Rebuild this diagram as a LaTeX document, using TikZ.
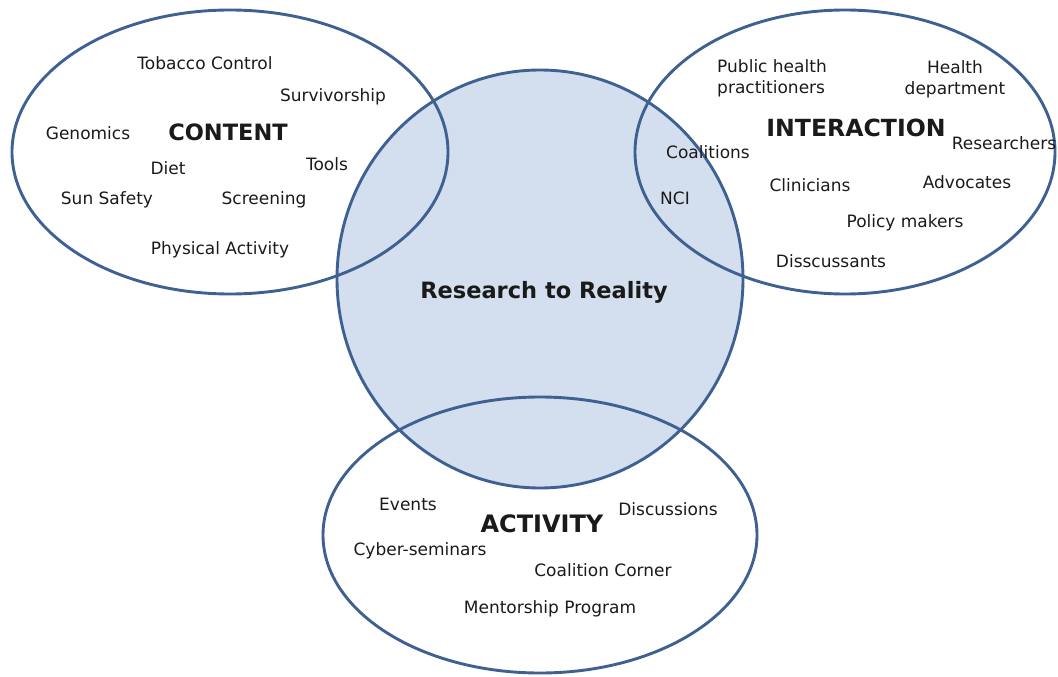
\documentclass[tikz,border=0pt]{standalone}
\usepackage{fontspec}
\setmainfont{DejaVu Sans}
\usetikzlibrary{shapes.geometric}
\definecolor{edge}{HTML}{3E6192}
\definecolor{bluefill}{HTML}{D3DEEE}
\definecolor{txt}{HTML}{1A1A1A}
\begin{document}
\begin{tikzpicture}[x=1pt,y=-1pt,
  lbl/.style={text=txt,font=\fontsize{17}{21}\selectfont,inner sep=0pt},
  head/.style={text=txt,font=\fontsize{22.5}{26}\selectfont\bfseries,inner sep=0pt},
  ring/.style={draw=edge,line width=2.9pt}]
\useasboundingbox (0,0) rectangle (1058,677);
% central circle
\fill[bluefill] (540,279) ellipse [x radius=203,y radius=209];
\draw[ring] (540,279) ellipse [x radius=203,y radius=209];
% three ellipses
\draw[ring] (230,152) ellipse [x radius=218,y radius=142];
\draw[ring] (845,152) ellipse [x radius=210,y radius=142];
\draw[ring] (540,535) ellipse [x radius=217,y radius=138];
% centre label
\node[head] (r2r) at (544,292) {Research to Reality};
% CONTENT
\node[head] (content) at (228,132) {CONTENT};
\node[lbl] (tob) at (205,63) {Tobacco Control};
\node[lbl] (surv) at (333,97) {Survivorship};
\node[lbl] (gen) at (88,133) {Genomics};
\node[lbl] (diet) at (168,168) {Diet};
\node[lbl] (tools) at (327,164) {Tools};
\node[lbl] (sun) at (107,200) {Sun Safety};
\node[lbl] (scr) at (264,200) {Screening};
\node[lbl] (phys) at (220,250) {Physical Activity};
% INTERACTION
\node[head,font=\fontsize{23.6}{27}\selectfont\bfseries] (inter) at (856,128) {INTERACTION};
\node[lbl,align=left] (pub) at (772,78) {Public health\\practitioners};
\node[lbl,align=center] (hd) at (955,79) {Health\\department};
\node[lbl] (res) at (1004,143) {Researchers};
\node[lbl] (coal) at (708,152) {Coalitions};
\node[lbl] (nci) at (675,198) {NCI};
\node[lbl] (clin) at (810,185) {Clinicians};
\node[lbl] (adv) at (967,182) {Advocates};
\node[lbl] (pol) at (905,223) {Policy makers};
\node[lbl] (dis) at (831,261) {Disscussants};
% ACTIVITY
\node[head,font=\fontsize{24}{28}\selectfont\bfseries] (act) at (542,524) {ACTIVITY};
\node[lbl] (ev) at (408,504) {Events};
\node[lbl] (disc) at (668,509) {Discussions};
\node[lbl] (cyber) at (420,551) {Cyber-seminars};
\node[lbl] (cc) at (603,570) {Coalition Corner};
\node[lbl] (ment) at (550,609) {Mentorship Program};
\end{tikzpicture}
\end{document}
